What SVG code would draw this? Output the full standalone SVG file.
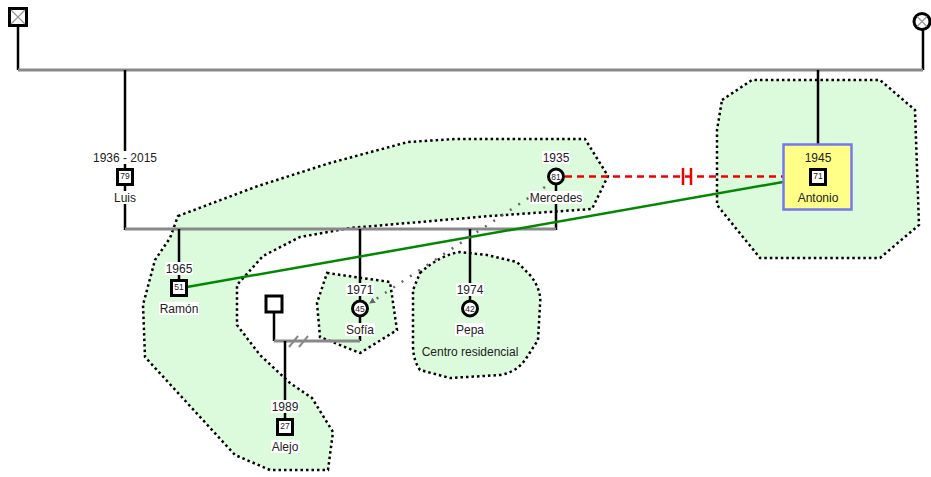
<svg xmlns="http://www.w3.org/2000/svg" width="931" height="477" viewBox="0 0 931 477">
<style>
.region{fill:#dcfadc;stroke:#000;stroke-width:2.5;stroke-dasharray:2.5 3;}
.gline{stroke:#888;stroke-width:3;fill:none;}
.bline{stroke:#000;stroke-width:2.5;fill:none;}
.m{fill:#fff;stroke:#000;stroke-width:3;}
.lab{font-family:"Liberation Sans",Arial,sans-serif;font-size:12px;fill:#222;text-anchor:middle;}
.age{font-family:"Liberation Sans",Arial,sans-serif;font-size:8.5px;fill:#222;text-anchor:middle;}
.bg{fill:#fff;}
</style>
<defs>
<marker id="arr" viewBox="0 0 6 6" refX="5" refY="3" markerWidth="6" markerHeight="6" orient="auto" markerUnits="userSpaceOnUse">
<path d="M0,0 L6,3 L0,6 z" fill="#666"/>
</marker>
</defs>
<g id="regions">
<polygon id="region-main" class="region" points="178,216 258,186 330,163 408,142 455,139 585,139 608,176 592,209 490,216 350,228 300,237 263,256 237,285 237,325 260,355 290,383 312,398 333,432 328,470 270,470 235,455 145,357 143,305 155,260 170,238"/>
<polygon id="region-antonio" class="region" points="722,100 752,80 880,80 915,110 919,225 880,258 760,258 717,205 717,130"/>
<polygon id="region-sofia" class="region" points="327,273 390,282 397,330 360,353 320,337 317,303"/>
<path id="region-pepa" class="region" d="M420,273 Q440,255 460,252 L487,255 L517,262 L530,275 Q542,290 540,305 L538,340 L527,357 Q518,372 500,375 L450,378 L420,370 Q413,360 413,345 L413,290 Z"/>
</g>
<g id="connectors">
<polyline class="bline" points="18,26 18,70"/>
<polyline class="bline" points="923,30 923,70"/>
<line class="gline" x1="18" y1="70" x2="923" y2="70"/>
<line class="bline" x1="125" y1="70" x2="125" y2="230"/>
<line class="bline" x1="818" y1="70" x2="818" y2="144"/>
<line class="bline" x1="556" y1="184" x2="556" y2="230"/>
<line class="gline" x1="125" y1="229" x2="556" y2="229"/>
<line class="bline" x1="179" y1="229" x2="179" y2="280"/>
<line class="bline" x1="360" y1="229" x2="360" y2="300"/>
<line class="bline" x1="470" y1="229" x2="470" y2="300"/>
<line class="bline" x1="274" y1="312" x2="274" y2="341"/>
<line class="bline" x1="360" y1="316" x2="360" y2="341"/>
<line class="gline" x1="274" y1="341" x2="360" y2="341"/>
<line stroke="#888" stroke-width="2" x1="289" y1="347" x2="298" y2="336"/>
<line stroke="#888" stroke-width="2" x1="299" y1="347" x2="308" y2="336"/>
<line class="bline" x1="285" y1="341" x2="285" y2="419"/>
<line stroke="#e00" stroke-width="2.5" stroke-dasharray="7 5" x1="565" y1="176.5" x2="783" y2="176.5"/>
<line stroke="#e00" stroke-width="2.5" x1="683" y1="168" x2="683" y2="185"/>
<line stroke="#e00" stroke-width="2.5" x1="691" y1="168" x2="691" y2="185"/>
<line stroke="#080" stroke-width="2.5" x1="187" y1="287" x2="783" y2="182"/>
<line stroke="#666" stroke-width="2.5" stroke-dasharray="2 8" x1="545" y1="187" x2="370" y2="303" marker-end="url(#arr)"/>
</g>
<g id="node-father">
<rect class="m" x="9.5" y="8.5" width="17" height="17"/>
<path d="M11,10 L25,24 M25,10 L11,24" stroke="#999" stroke-width="1.2"/>
</g>
<g id="node-mother">
<circle class="m" cx="922" cy="21.5" r="8"/>
<path d="M917,16.5 L927,26.5 M927,16.5 L917,26.5" stroke="#999" stroke-width="1.2"/>
</g>
<g id="node-luis">
<rect class="bg" x="92" y="151" width="66" height="13"/>
<text class="lab" x="125" y="162">1936 - 2015</text>
<rect class="m" x="117.5" y="169.5" width="15" height="15"/>
<text class="age" x="125" y="179">79</text>
<rect class="bg" x="113" y="191" width="24" height="13"/>
<text class="lab" x="125" y="202">Luis</text>
</g>
<g id="node-mercedes">
<rect class="bg" x="542" y="151" width="28" height="13"/>
<text class="lab" x="556" y="162">1935</text>
<circle class="m" cx="556" cy="176.5" r="7.5"/>
<text class="age" x="556" y="179.5">81</text>
<rect class="bg" x="529" y="191" width="54" height="13"/>
<text class="lab" x="556" y="202">Mercedes</text>
</g>
<g id="node-antonio">
<rect x="783.5" y="144.5" width="68" height="65" fill="#ffff88" stroke="#7777ee" stroke-width="2.5"/>
<text class="lab" x="818" y="162">1945</text>
<rect class="m" x="810.5" y="169.5" width="15" height="15"/>
<text class="age" x="818" y="179">71</text>
<text class="lab" x="818" y="202">Antonio</text>
</g>
<g id="node-ramon">
<rect class="bg" x="165" y="262" width="28" height="13"/>
<text class="lab" x="179" y="273">1965</text>
<rect class="m" x="171.5" y="280.5" width="15" height="15"/>
<text class="age" x="179" y="290">51</text>
<rect class="bg" x="159" y="302" width="40" height="13"/>
<text class="lab" x="179" y="313">Ramón</text>
</g>
<g id="node-sofia">
<rect class="bg" x="346" y="283" width="28" height="13"/>
<text class="lab" x="360" y="294">1971</text>
<circle class="m" cx="360" cy="308.5" r="7.5"/>
<text class="age" x="360" y="311.5">45</text>
<rect class="bg" x="345" y="323" width="30" height="13"/>
<text class="lab" x="360" y="334">Sofía</text>
</g>
<g id="node-pepa">
<rect class="bg" x="456" y="283" width="28" height="13"/>
<text class="lab" x="470" y="294">1974</text>
<circle class="m" cx="470" cy="308.5" r="7.5"/>
<text class="age" x="470" y="311.5">42</text>
<rect class="bg" x="455" y="323" width="30" height="13"/>
<text class="lab" x="470" y="334">Pepa</text>
<text class="lab" x="470" y="356">Centro residencial</text>
</g>
<g id="node-partner">
<rect class="m" x="266" y="296" width="16" height="16"/>
</g>
<g id="node-alejo">
<rect class="bg" x="271" y="400" width="28" height="13"/>
<text class="lab" x="285" y="411">1989</text>
<rect class="m" x="277.5" y="419.5" width="15" height="15"/>
<text class="age" x="285" y="429">27</text>
<rect class="bg" x="271" y="440" width="29" height="13"/>
<text class="lab" x="285" y="451">Alejo</text>
</g>
</svg>
